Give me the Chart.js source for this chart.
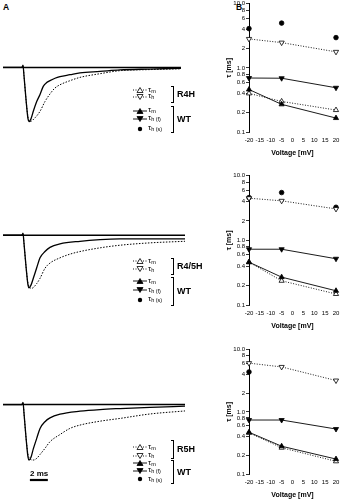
<!DOCTYPE html>
<html><head><meta charset="utf-8">
<script src="https://cdn.jsdelivr.net/npm/chart.js@4.4.1/dist/chart.umd.min.js"></script>
<style>
html,body{margin:0;padding:0;background:#fff;}
body{width:344px;height:499px;position:relative;overflow:hidden;font-family:"Liberation Sans",Arial,sans-serif;color:#000;}
canvas{position:absolute;}
.t{position:absolute;white-space:nowrap;line-height:1;}
.panel{font-weight:bold;font-size:8.5px;}
.grp{font-weight:bold;font-size:9px;}
.leg{font-size:8px;}
.leg sub{font-size:5.5px;vertical-align:-1px;}
.br{position:absolute;border:1px solid #000;border-left:none;width:2px;}
</style></head><body>
<div class="t panel" style="left:3px;top:3px;">A</div>
<div class="t panel" style="left:236px;top:3px;">B</div>
<canvas id="tr1"></canvas><canvas id="tr2"></canvas><canvas id="tr3"></canvas>
<canvas id="b1"></canvas><canvas id="b2"></canvas><canvas id="b3"></canvas>
<div id="legends"></div>
<div class="t" style="left:30px;top:470px;font-size:8px;font-weight:bold;">2 ms</div>
<script>
// ---------- DATA ----------
const voltages = [-20, -5, 20];
const yTickValues = [0.1, 0.2, 0.4, 0.6, 0.8, 1, 2, 4, 6, 8, 10];
const yTickLabels = ['0.1', '0.2', '0.4', '0.6', '0.8', '1.0', '2', '4', '6', '8', '10.0'];
const xTickLabels = ['-20', '-15', '-10', '-5', '0', '5', '10', '15', '20'];

// panel B1 (R4H)
const r4hTauM  = [0.40, 0.30, 0.22];
const r4hTauH  = [2.83, 2.48, 1.78];
const wt1TauM  = [0.46, 0.27, 0.165];
const wt1TauHf = [0.695, 0.69, 0.49];
const wt1TauHs = [4.1, 5.0, 2.97];
// panel B2 (R4/5H)
const r45hTauM = [0.46, 0.237, 0.148];
const r45hTauH = [4.5, 4.1, 3.07];
const wt2TauM  = [0.46, 0.27, 0.166];
const wt2TauHf = [0.73, 0.73, 0.52];
const wt2TauHs = [4.6, 5.5, 3.26];
// panel B3 (R5H)
const r5hTauM  = [0.46, 0.265, 0.16];
const r5hTauH  = [6.1, 5.3, 3.2];
const wt3TauM  = [0.47, 0.28, 0.174];
const wt3TauHf = [0.74, 0.74, 0.53];
const wt3TauHs = [4.4, null, null];

// current traces (time in ms, current normalised to peak)
const tWT1  = [0, 2.12, 2.23, 2.34, 2.57, 2.79, 2.90, 3.12, 3.38, 3.76, 4.13, 4.49, 4.87, 5.24, 5.80, 6.36, 7.47, 8.59, 10.82, 13.05, 16.40, 19.85];
const iWT1  = [0, 0, 0.04, -0.15, -0.6, -0.95, -1.0, -0.95, -0.81, -0.63, -0.50, -0.35, -0.28, -0.245, -0.20, -0.17, -0.135, -0.10, -0.074, -0.046, -0.03, -0.015];
const tR4H  = [2.12, 2.23, 2.34, 2.57, 2.79, 3.01, 3.57, 4.13, 4.68, 5.24, 5.80, 6.36, 7.47, 8.59, 10.82, 13.05, 16.40, 19.85];
const iR4H  = [0, 0.04, -0.15, -0.6, -0.92, -1.0, -0.93, -0.81, -0.63, -0.49, -0.38, -0.32, -0.245, -0.184, -0.116, -0.06, -0.04, -0.025];
const tWT2  = [0, 2.12, 2.23, 2.34, 2.57, 2.79, 2.90, 3.12, 3.38, 3.76, 4.13, 4.68, 5.24, 6.36, 8.59, 10.82, 13.05, 16.40, 20.3];
const iWT2  = [0, 0, 0.04, -0.15, -0.6, -0.95, -1.0, -0.95, -0.82, -0.62, -0.43, -0.31, -0.23, -0.165, -0.115, -0.085, -0.07, -0.068, -0.068];
const tR45H = [2.12, 2.23, 2.34, 2.57, 2.79, 3.20, 3.76, 4.13, 4.68, 5.24, 6.36, 7.47, 8.59, 10.82, 13.05, 16.40, 20.3];
const iR45H = [0, 0.04, -0.15, -0.6, -0.92, -1.01, -0.92, -0.82, -0.63, -0.53, -0.43, -0.36, -0.31, -0.24, -0.19, -0.145, -0.115];
const tWT3  = [0, 2.12, 2.23, 2.34, 2.57, 2.79, 2.90, 3.12, 3.38, 3.76, 4.13, 4.68, 5.24, 6.36, 8.59, 10.82, 13.05, 16.40, 20.3];
const iWT3  = [0, 0, 0.04, -0.15, -0.6, -0.95, -1.0, -0.95, -0.80, -0.61, -0.43, -0.31, -0.24, -0.174, -0.12, -0.09, -0.072, -0.05, -0.03];
const tR5H  = [2.12, 2.23, 2.34, 2.57, 2.79, 3.0, 3.38, 3.76, 4.13, 4.68, 5.24, 6.36, 7.47, 8.59, 10.82, 13.05, 16.40, 20.3];
const iR5H  = [0, 0.04, -0.15, -0.6, -0.9, -0.98, -1.0, -0.97, -0.90, -0.79, -0.67, -0.54, -0.43, -0.37, -0.30, -0.25, -0.17, -0.115];
const scaleBarT = [3.0, 5.0];
const scaleBarI = [-1.36, -1.36];

const mutantNames = ['R4H', 'R4/5H', 'R5H'];
const legendSubs = ['m', 'h', 'm', 'h (f)', 'h (s)'];

// ---------- DRAWING ----------
const FONT = '"Liberation Sans", Arial, sans-serif';
const pts = (xs, ys) => xs.map((x, k) => ({x: x, y: ys[k]}));

function sizeCanvas(id, left, top, w, h) {
  const c = document.getElementById(id);
  c.width = w; c.height = h;
  c.style.left = left + 'px'; c.style.top = top + 'px';
  c.style.width = w + 'px'; c.style.height = h + 'px';
  return c;
}

function traceChart(id, box, wt, mut, extra) {
  const c = sizeCanvas(id, 3, box.top, 182, box.height);
  const tEnd = wt[0][wt[0].length - 1];
  const ds = [
    {data: pts([0, tEnd], [0, 0]), borderColor: '#000', borderWidth: 1.5},
    {data: pts(wt[0], wt[1]), borderColor: '#000', borderWidth: 1.3, cubicInterpolationMode: 'monotone'},
    {data: pts(mut[0], mut[1]), borderColor: '#000', borderWidth: 1, borderDash: [1.5, 1.5], cubicInterpolationMode: 'monotone'}
  ].concat(extra || []);
  ds.forEach(d => { d.pointRadius = 0; d.fill = false; d.clip = false; });
  new Chart(c, {
    type: 'line',
    data: {datasets: ds},
    options: {
      responsive: false, animation: false, devicePixelRatio: 1,
      layout: {padding: 0},
      plugins: {legend: {display: false}, tooltip: {enabled: false}},
      scales: {
        x: {type: 'linear', display: false, min: 0, max: 20.3},
        y: {type: 'linear', display: false, min: box.yMin, max: 0.1}
      }
    }
  });
}

traceChart('tr1', {top: 62, height: 65, yMin: -1.1}, [tWT1, iWT1], [tR4H, iR4H]);
traceChart('tr2', {top: 230, height: 63, yMin: -1.1}, [tWT2, iWT2], [tR45H, iR45H]);
traceChart('tr3', {top: 399, height: 86, yMin: -1.45}, [tWT3, iWT3], [tR5H, iR5H],
  [{data: pts(scaleBarT, scaleBarI), borderColor: '#000', borderWidth: 2.2}]);

function tauChart(id, top, height, series) {
  const c = sizeCanvas(id, 225, top, 117, height);
  const mk = (vals, style, filled, rot, line) => ({
    data: pts(voltages, vals),
    borderColor: '#000', backgroundColor: filled ? '#000' : '#fff',
    pointStyle: style, pointRotation: rot, pointRadius: style === 'circle' ? 2.3 : 3,
    pointBorderColor: '#000', pointBackgroundColor: filled ? '#000' : '#fff', pointBorderWidth: 0.8,
    borderWidth: line === 'none' ? 0 : 0.9, showLine: line !== 'none',
    borderDash: line === 'dot' ? [1, 1.6] : [], clip: false, spanGaps: false
  });
  const ds = [
    mk(series.wtHf, 'triangle', true, 180, 'solid'),
    mk(series.wtM, 'triangle', true, 0, 'solid'),
    mk(series.mutM, 'triangle', false, 0, 'dot'),
    mk(series.mutH, 'triangle', false, 180, 'dot'),
    mk(series.wtHs, 'circle', true, 0, 'none')
  ];
  new Chart(c, {
    type: 'line',
    data: {datasets: ds},
    options: {
      responsive: false, animation: false, devicePixelRatio: 1,
      layout: {padding: {left: 0, right: 6, top: 4, bottom: 0}},
      plugins: {legend: {display: false}, tooltip: {enabled: false}},
      scales: {
        x: {
          type: 'linear', min: -20, max: 20,
          afterFit: s => { s.height = 25; },
          afterBuildTicks: s => { s.ticks = xTickLabels.map(l => ({value: Number(l)})); },
          ticks: {autoSkip: false, maxRotation: 0, padding: 2, color: '#000',
                  font: {size: 6, family: FONT},
                  callback: (v) => xTickLabels[xTickLabels.indexOf(String(v))]},
          grid: {display: true, drawOnChartArea: false, drawTicks: true, tickLength: 3, color: 'rgba(0,0,0,0)'},
          border: {display: false},
          title: {display: true, text: 'Voltage [mV]', color: '#000', padding: 0,
                  font: {size: 7, weight: 'bold', family: FONT}}
        },
        y: {
          type: 'logarithmic', min: 0.1, max: 10,
          afterFit: s => { s.width = 24; },
          afterBuildTicks: s => { s.ticks = yTickValues.map(v => ({value: v})); },
          ticks: {autoSkip: false, padding: 1, color: '#000', font: {size: 6, family: FONT},
                  callback: (v) => yTickLabels[yTickValues.findIndex(t => Math.abs(t - v) < 1e-9)]},
          grid: {display: true, drawOnChartArea: false, drawTicks: true, tickLength: 3, color: '#000', lineWidth: 0.8},
          border: {display: true, color: '#000', width: 1},
          title: {display: true, text: 'τ [ms]', color: '#000', padding: 0,
                  font: {size: 7, weight: 'bold', family: FONT}}
        }
      }
    }
  });
}

tauChart('b1', -1, 158, {mutM: r4hTauM, mutH: r4hTauH, wtM: wt1TauM, wtHf: wt1TauHf, wtHs: wt1TauHs});
tauChart('b2', 171, 159, {mutM: r45hTauM, mutH: r45hTauH, wtM: wt2TauM, wtHf: wt2TauHf, wtHs: wt2TauHs});
tauChart('b3', 345, 154, {mutM: r5hTauM, mutH: r5hTauH, wtM: wt3TauM, wtHf: wt3TauHf, wtHs: wt3TauHs});

// ---------- LEGENDS ----------
const legendLayouts = [
  {rows: [90, 96.5, 110.5, 118.5, 128.5], brR: [86, 103], brW: [106, 133], x: 133},
  {rows: [261, 269, 281, 290, 299.5], brR: [258, 275], brW: [277, 306], x: 133},
  {rows: [447, 455.5, 463, 470.5, 479], brR: [440, 459], brW: [460, 484], x: 133}
];
const symStyle = [
  {shape: 'up', fill: false, line: 'dot'},
  {shape: 'down', fill: false, line: 'dot'},
  {shape: 'up', fill: true, line: 'solid'},
  {shape: 'down', fill: true, line: 'solid'},
  {shape: 'circle', fill: true, line: 'none'}
];
const host = document.getElementById('legends');
legendLayouts.forEach((L, p) => {
  L.rows.forEach((y, r) => {
    const s = symStyle[r];
    const f = s.fill ? '#000' : '#fff';
    let shape = '';
    if (s.shape === 'up') shape = `<polygon points="5,0.5 8,5.5 2,5.5" fill="${f}" stroke="#000" stroke-width="0.8"/>`;
    else if (s.shape === 'down') shape = `<polygon points="2,0.5 8,0.5 5,5.5" fill="${f}" stroke="#000" stroke-width="0.8"/>`;
    else shape = `<circle cx="7" cy="3" r="2.2" fill="#000"/>`;
    const line = s.line === 'none' ? '' :
      `<line x1="0" y1="3" x2="14" y2="3" stroke="#000" stroke-width="0.9" ${s.line === 'dot' ? 'stroke-dasharray="1,1.5"' : ''}/>`;
    const shapeShift = s.shape === 'circle' ? shape : `<g transform="translate(2,0)">${shape}</g>`;
    const svg = document.createElementNS('http://www.w3.org/2000/svg', 'svg');
    svg.setAttribute('width', 14); svg.setAttribute('height', 6);
    svg.style.position = 'absolute';
    svg.style.left = L.x + 'px'; svg.style.top = (y - 3) + 'px';
    svg.innerHTML = line + shapeShift;
    host.appendChild(svg);
    const d = document.createElement('div');
    d.className = 't leg';
    d.style.left = (L.x + 15) + 'px'; d.style.top = (y - 4.5) + 'px';
    d.innerHTML = 'τ<sub>' + legendSubs[r] + '</sub>';
    host.appendChild(d);
  });
  const bx = L.x + 38;
  [[L.brR, mutantNames[p]], [L.brW, 'WT']].forEach(([b, name]) => {
    const br = document.createElement('div');
    br.className = 'br';
    br.style.left = bx + 'px'; br.style.top = b[0] + 'px'; br.style.height = (b[1] - b[0] - 2) + 'px';
    host.appendChild(br);
    const g = document.createElement('div');
    g.className = 't grp';
    g.style.left = (bx + 6) + 'px'; g.style.top = ((b[0] + b[1]) / 2 - 4.5) + 'px';
    g.textContent = name;
    host.appendChild(g);
  });
});
</script>
</body></html>
